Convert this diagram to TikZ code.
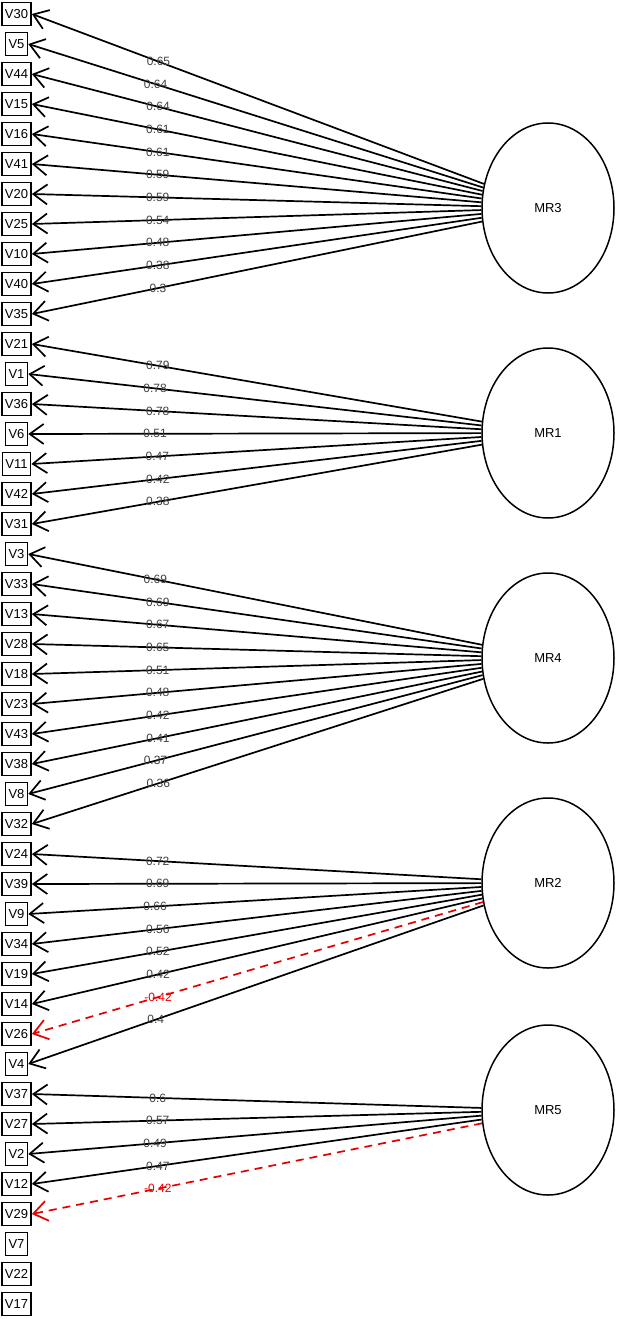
\documentclass[tikz,border=0pt]{standalone}
\usepackage{fontspec}
\setmainfont{Liberation Sans}
\usetikzlibrary{arrows.meta,shapes.geometric}
\begin{document}
\begin{tikzpicture}[x=1pt,y=-1pt,
 var/.style={draw,line width=1.6pt,minimum height=23pt,inner xsep=3pt,inner ysep=0pt,font=\fontsize{13}{13}\selectfont},
 fac/.style={draw,ellipse,line width=1.5pt,minimum width=132pt,minimum height=170pt,inner sep=0pt,font=\fontsize{13}{13}\selectfont},
 load/.style={line width=1.7pt,-{Straight Barb[length=14pt,width=20pt]}},
 neg/.style={load,red!90!black,dash pattern=on 8pt off 6pt},
 lab/.style={font=\fontsize{12}{12}\selectfont,text=black!75,pos=0.72,inner sep=0pt},
 nlab/.style={lab,text=red!90!black},
]
\useasboundingbox (0,0) rectangle (617,1319);
\foreach \v [count=\i from 0] in {V30,V5,V44,V15,V16,V41,V20,V25,V10,V40,V35,V21,V1,V36,V6,V11,V42,V31,V3,V33,V13,V28,V18,V23,V43,V38,V8,V32,V24,V39,V9,V34,V19,V14,V26,V4,V37,V27,V2,V12,V29,V7,V22,V17}
  \node[var] (\v) at (16.5,14+30*\i) {\v};
\node[fac] (MR3) at (548,208) {MR3};
\node[fac] (MR1) at (548,433) {MR1};
\node[fac] (MR4) at (548,658) {MR4};
\node[fac] (MR2) at (548,883) {MR2};
\node[fac] (MR5) at (548,1110) {MR5};
\foreach \f/\v/\l in {MR3/V30/0.65,MR3/V5/0.64,MR3/V44/0.64,MR3/V15/0.61,MR3/V16/0.61,MR3/V41/0.59,MR3/V20/0.59,MR3/V25/0.54,MR3/V10/0.48,MR3/V40/0.38,MR3/V35/0.3,
  MR1/V21/0.79,MR1/V1/0.78,MR1/V36/0.78,MR1/V6/0.51,MR1/V11/0.47,MR1/V42/0.42,MR1/V31/0.38,
  MR4/V3/0.69,MR4/V33/0.69,MR4/V13/0.67,MR4/V28/0.65,MR4/V18/0.51,MR4/V23/0.48,MR4/V43/0.42,MR4/V38/0.41,MR4/V8/0.37,MR4/V32/0.36,
  MR2/V24/0.72,MR2/V39/0.69,MR2/V9/0.66,MR2/V34/0.56,MR2/V19/0.52,MR2/V14/0.42,MR2/V4/0.4,
  MR5/V37/0.6,MR5/V27/0.57,MR5/V2/0.49,MR5/V12/0.47}
  \draw[load] (\f) -- (\v.east) node[lab] {\l};
\draw[neg] (MR2) -- (V26.east) node[nlab] {-0.42};
\draw[neg] (MR5) -- (V29.east) node[nlab] {-0.42};
\end{tikzpicture}
\end{document}
